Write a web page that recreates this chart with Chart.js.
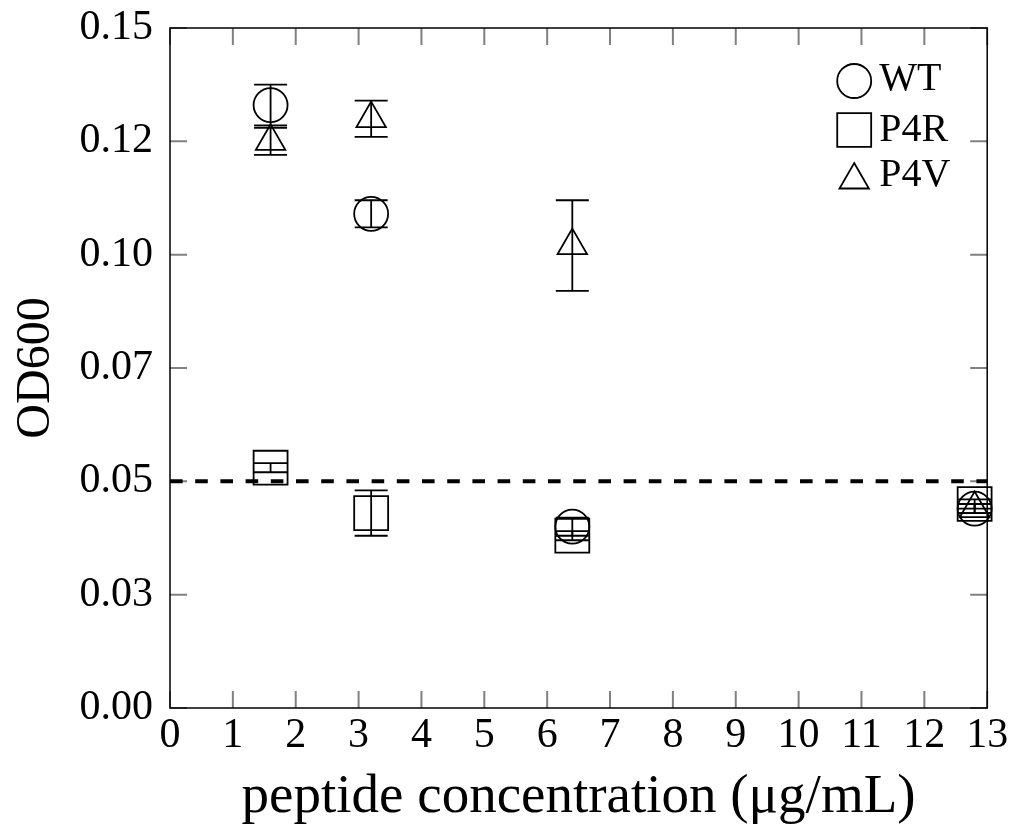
<!DOCTYPE html>
<html><head><meta charset="utf-8">
<script src="https://cdn.jsdelivr.net/npm/chart.js@4.4.0/dist/chart.umd.min.js"></script>
<style>html,body{margin:0;padding:0;background:#fff}canvas{display:block}</style>
</head><body>
<canvas id="c" width="1013" height="831"></canvas>
<script>
const concentrations = [1.6, 3.2, 6.4, 12.8];
const seriesNames = ['WT', 'P4R', 'P4V'];
const wtValues  = [0.133, 0.109, 0.040, 0.044];
const wtErrors  = [0.0045, 0.003, 0.002, 0.001];
const p4rValues = [0.053, 0.043, 0.038, 0.045];
const p4rErrors = [0.001, 0.005, 0.001, 0.001];
const p4vValues = [0.125, 0.130, 0.102, 0.044];
const p4vErrors = [0.003, 0.004, 0.010, 0.001];
const xTickValues = [0,1,2,3,4,5,6,7,8,9,10,11,12,13];
const xTickLabels = ['0','1','2','3','4','5','6','7','8','9','10','11','12','13'];
const yTickValues = [0, 0.025, 0.05, 0.075, 0.1, 0.125, 0.15];
const yTickLabels = ['0.00','0.03','0.05','0.07','0.10','0.12','0.15'];
const thresholdValue = 0.05;

const FONT = "'Liberation Serif', 'DejaVu Serif', serif";

function mk(label, values, errors, style, radius) {
  return {
    label: label,
    data: concentrations.map((x, i) => ({x: x, y: values[i]})),
    errors: errors,
    pointStyle: style,
    pointRadius: radius,
    pointHoverRadius: radius,
    pointBorderWidth: 1.8,
    pointBorderColor: '#000',
    pointBackgroundColor: 'rgba(0,0,0,0)',
    showLine: false,
    clip: false
  };
}

function drawShape(ctx, style, r, cx, cy) {
  ctx.beginPath();
  if (style === 'circle') {
    ctx.arc(cx, cy, r, 0, Math.PI * 2);
  } else if (style === 'rect') {
    const s = Math.SQRT1_2 * r;
    ctx.rect(cx - s, cy - s, 2 * s, 2 * s);
  } else {
    let rad = 0;
    ctx.moveTo(cx + Math.sin(rad) * r, cy - Math.cos(rad) * r);
    rad += 2 * Math.PI / 3;
    ctx.lineTo(cx + Math.sin(rad) * r, cy - Math.cos(rad) * r);
    rad += 2 * Math.PI / 3;
    ctx.lineTo(cx + Math.sin(rad) * r, cy - Math.cos(rad) * r);
    ctx.closePath();
  }
  ctx.stroke();
}

const errorBars = {
  id: 'errorBars',
  afterDatasetsDraw(chart) {
    const {ctx, scales: {x, y}} = chart;
    ctx.save();
    ctx.strokeStyle = '#000';
    ctx.lineWidth = 1.8;
    chart.data.datasets.forEach(ds => {
      ds.data.forEach((p, i) => {
        const px = x.getPixelForValue(p.x);
        const top = y.getPixelForValue(p.y + ds.errors[i]);
        const bot = y.getPixelForValue(p.y - ds.errors[i]);
        ctx.beginPath();
        ctx.moveTo(px, top); ctx.lineTo(px, bot);
        ctx.moveTo(px - 16.5, top); ctx.lineTo(px + 16.5, top);
        ctx.moveTo(px - 16.5, bot); ctx.lineTo(px + 16.5, bot);
        ctx.stroke();
      });
    });
    ctx.restore();
  }
};

const frame = {
  id: 'frame',
  afterDraw(chart) {
    const {ctx, chartArea: a, scales: {x, y}} = chart;
    ctx.save();
    // inward ticks on all four sides
    ctx.strokeStyle = '#808080';
    ctx.lineWidth = 2;
    ctx.beginPath();
    xTickValues.forEach(v => {
      const px = x.getPixelForValue(v);
      ctx.moveTo(px, a.bottom); ctx.lineTo(px, a.bottom - 17);
      ctx.moveTo(px, a.top); ctx.lineTo(px, a.top + 17);
    });
    yTickValues.forEach(v => {
      const py = y.getPixelForValue(v);
      ctx.moveTo(a.left, py); ctx.lineTo(a.left + 17, py);
      ctx.moveTo(a.right, py); ctx.lineTo(a.right - 17, py);
    });
    ctx.stroke();
    // threshold dashed line
    const ty = y.getPixelForValue(thresholdValue);
    ctx.strokeStyle = '#000';
    ctx.lineWidth = 4;
    ctx.setLineDash([12.6, 12.6]);
    ctx.beginPath();
    ctx.moveTo(a.left, ty); ctx.lineTo(a.right, ty);
    ctx.stroke();
    ctx.setLineDash([]);
    // frame
    ctx.lineWidth = 1.5;
    ctx.strokeRect(a.left, a.top, a.right - a.left, a.bottom - a.top);
    // legend
    const markerRows = [53, 102, 152];
    const textRows = [51, 102, 147.5];
    ctx.lineWidth = 1.8;
    ctx.fillStyle = '#000';
    ctx.font = "40px " + FONT;
    ctx.textAlign = 'left';
    ctx.textBaseline = 'middle';
    chart.data.datasets.forEach((ds, i) => {
      drawShape(ctx, ds.pointStyle, ds.pointRadius, a.right - 133, a.top + markerRows[i]);
      ctx.fillText(seriesNames[i], a.right - 108, a.top + textRows[i]);
    });
    ctx.restore();
  }
};

new Chart(document.getElementById('c'), {
  type: 'scatter',
  data: {
    datasets: [
      mk(seriesNames[0], wtValues, wtErrors, 'circle', 17),
      mk(seriesNames[1], p4rValues, p4rErrors, 'rect', 24),
      mk(seriesNames[2], p4vValues, p4vErrors, 'triangle', 17)
    ]
  },
  options: {
    responsive: false,
    animation: false,
    events: [],
    layout: {padding: {top: 28, right: 25, left: 0, bottom: 0}},
    plugins: {legend: {display: false}, tooltip: {enabled: false}},
    scales: {
      x: {
        type: 'linear', min: 0, max: 13,
        afterBuildTicks: s => { s.ticks = xTickValues.map(v => ({value: v})); },
        afterFit: s => { s.height = 123; s.paddingLeft = 0; s.paddingRight = 0; },
        ticks: {
          callback: (v, i) => xTickLabels[i],
          font: {family: FONT, size: 42}, color: '#000', padding: 3,
          maxRotation: 0, autoSkip: false
        },
        grid: {display: false, drawTicks: false},
        border: {display: false},
        title: {display: true, text: 'peptide concentration (μg/mL)',
          font: {family: FONT, size: 55}, color: '#000', padding: {top: 0, bottom: 0}}
      },
      y: {
        type: 'linear', min: 0, max: 0.15,
        afterBuildTicks: s => { s.ticks = yTickValues.map(v => ({value: v})); },
        afterFit: s => { s.width = 170; s.paddingTop = 0; s.paddingBottom = 0; },
        ticks: {
          callback: (v, i) => yTickLabels[i],
          font: {family: FONT, size: 42}, color: '#000', padding: 17,
          autoSkip: false
        },
        grid: {display: false, drawTicks: false},
        border: {display: false},
        title: {display: true, text: 'OD600',
          font: {family: FONT, size: 48}, color: '#000', padding: {top: 8, bottom: 0}}
      }
    }
  },
  plugins: [errorBars, frame]
});
</script>
</body></html>
